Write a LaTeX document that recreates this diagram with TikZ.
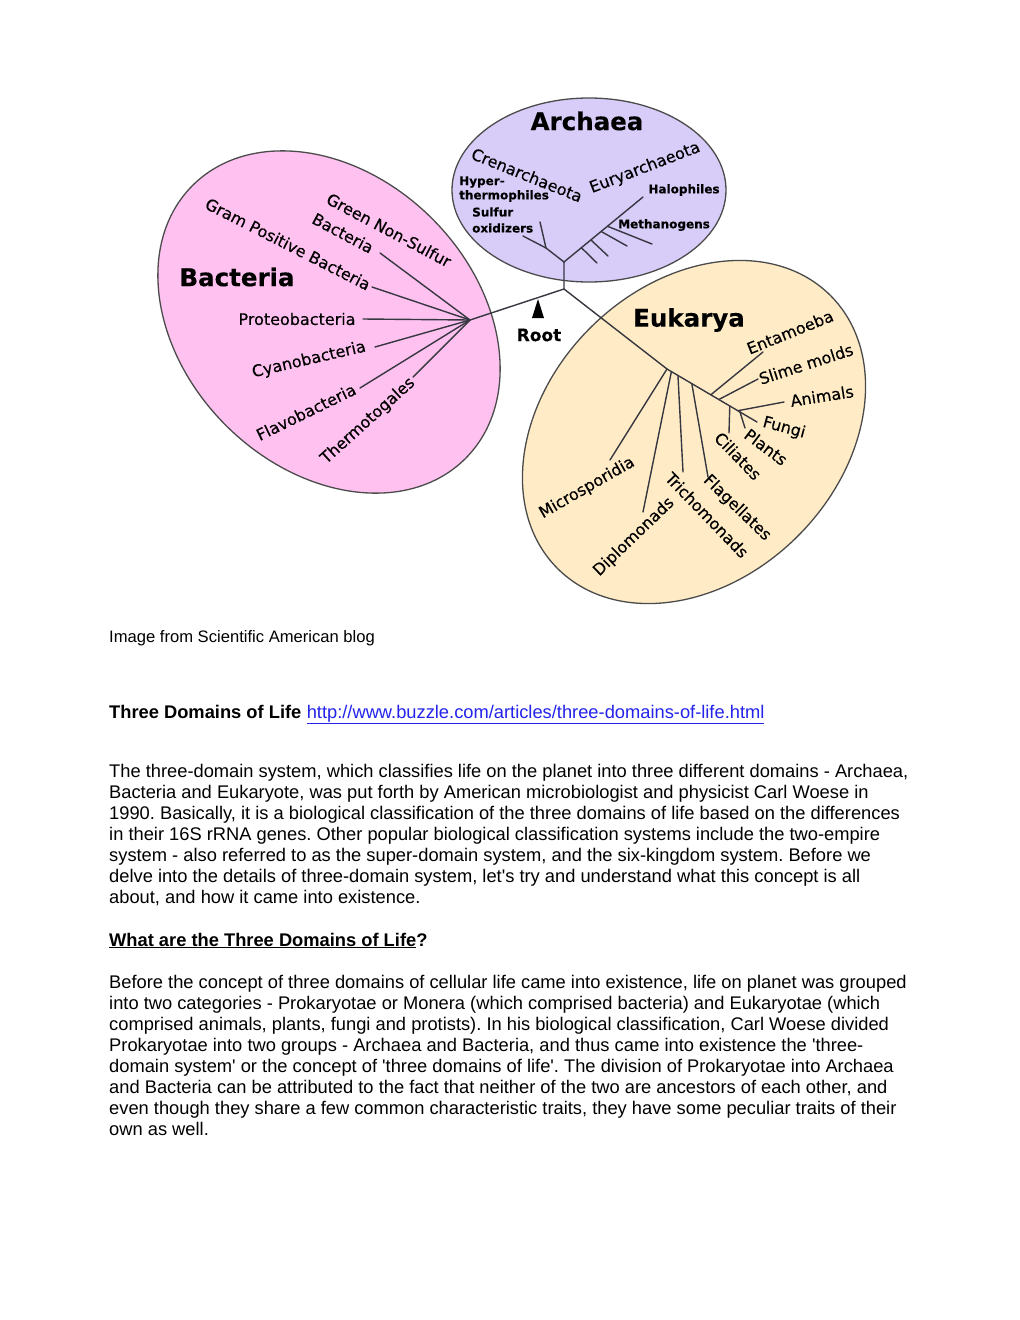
\documentclass[tikz,border=0pt]{standalone}
\usepackage{fontspec}
\setmainfont{Liberation Sans}
\newfontfamily\treefont{DejaVu Sans}[FakeBold=0.3]
\usetikzlibrary{positioning}
\definecolor{archfill}{RGB}{216,204,248}
\definecolor{bactfill}{RGB}{255,194,240}
\definecolor{eukfill}{RGB}{255,236,198}
\definecolor{rim}{RGB}{75,75,75}
\definecolor{branch}{RGB}{55,55,65}
\definecolor{linkblue}{RGB}{35,35,235}
\frenchspacing

\begin{document}
\begin{tikzpicture}[x=1pt, y=-1pt,
  cell/.style={draw=rim, line width=1.3pt},
  twig/.style={draw=branch, line width=1.4pt, line cap=round},
  lab/.style={font=\treefont\fontsize{16}{17}\selectfont, inner sep=0pt},
  small/.style={font=\treefont\bfseries\fontsize{12}{13}\selectfont, inner sep=0pt, anchor=west},
  title/.style={font=\treefont\bfseries\fontsize{24.5}{26}\selectfont, inner sep=0pt},
  body/.style={font=\fontsize{18.3}{21}\selectfont, inner sep=0pt, anchor=base west}]

  \fill[white] (0,0) rectangle (1020,1320);
  \useasboundingbox (0,0) rectangle (1020,1320);

  % the three domains
  \draw[cell, fill=bactfill] (329,322) ellipse [x radius=193pt, y radius=146pt, rotate=-45];
  \draw[cell, fill=archfill] (589,190) ellipse [x radius=137pt, y radius=92pt];
  \draw[cell, fill=eukfill] (694,432) ellipse [x radius=193pt, y radius=147pt, rotate=45];

  \node[title] (bacteria) at (237,277) {Bacteria};
  \node[title] (archaea) at (587,121) {Archaea};
  \node[title] (eukarya) at (689,320) {Eukarya};

  % trunk
  \coordinate (root) at (564,289);
  \coordinate (arcj) at (564,262);
  \coordinate (bacj) at (470,320);
  \coordinate (eukj) at (667,369);
  \coordinate (eukend) at (740,412);

  \draw[twig] (arcj) -- (root) -- (bacj);
  \draw[twig] (root) -- (eukj) -- (eukend);

  \coordinate (tip) at (538,299);
  \fill[black] (tip) -- ++(6,19) -- ++(-12,0) -- cycle;
  \node[font=\treefont\bfseries\fontsize{17}{18}\selectfont, inner sep=0pt] (rootlab) at (539,335) {Root};

  % Archaea
  \coordinate (cren) at (546,248);
  \coordinate (sulf) at (540,222);
  \coordinate (hyp) at (523,236);
  \coordinate (halo) at (643,197);
  \draw[twig] (arcj) -- (cren) -- (sulf);
  \draw[twig] (cren) -- (hyp);
  \draw[twig] (arcj) -- (halo);
  \path (arcj) -- (halo) coordinate[pos=0.22] (m1) coordinate[pos=0.34] (m2)
    coordinate[pos=0.47] (m3) coordinate[pos=0.55] (m4);
  \coordinate (m1e) at (597,263);
  \coordinate (m2e) at (608,256);
  \coordinate (m3e) at (627,246);
  \coordinate (m4e) at (652,244);
  \draw[twig] (m1) -- (m1e);
  \draw[twig] (m2) -- (m2e);
  \draw[twig] (m3) -- (m3e);
  \draw[twig] (m4) -- (m4e);

  \node[lab, rotate=-22] (crenlab) at (527,175) {Crenarchaeota};
  \node[lab, rotate=21] (eurylab) at (645,168) {Euryarchaeota};
  \node[small] (hyper) at (459,182) {Hyper-};
  \node[small] (thermo) at (459,196) {thermophiles};
  \node[small] (sulfur) at (472,212) {Sulfur};
  \node[small] (oxid) at (472,228) {oxidizers};
  \node[small, anchor=center] (halolab) at (684,190) {Halophiles};
  \node[small, anchor=center] (methlab) at (664,225) {Methanogens};

  % Bacteria
  \coordinate (gns) at (380,253);
  \coordinate (gpb) at (372,287);
  \coordinate (prot) at (363,319);
  \coordinate (cyan) at (375,347);
  \coordinate (flav) at (360,388);
  \coordinate (ther) at (413,377);
  \draw[twig] (bacj) -- (gns);
  \draw[twig] (bacj) -- (gpb);
  \draw[twig] (bacj) -- (prot);
  \draw[twig] (bacj) -- (cyan);
  \draw[twig] (bacj) -- (flav);
  \draw[twig] (bacj) -- (ther);

  \node[lab, rotate=-28] (gnslab) at (389,230) {Green Non-Sulfur};
  \node[lab, rotate=-28] (gnslab2) at (343,233) {Bacteria};
  \node[lab, rotate=-27] (gpblab) at (288,244) {Gram Positive Bacteria};
  \node[lab] (protlab) at (297,319) {Proteobacteria};
  \node[lab, rotate=13] (cyanlab) at (309,360) {Cyanobacteria};
  \node[lab, rotate=26] (flavlab) at (306,412) {Flavobacteria};
  \node[lab, rotate=42] (therlab) at (368,421) {Thermotogales};

  % Eukarya
  \path (eukj) -- (eukend) coordinate[pos=0.06] (e-dip) coordinate[pos=0.15] (e-tri)
    coordinate[pos=0.34] (e-fla) coordinate[pos=0.6] (e-ent) coordinate[pos=0.71] (e-sli)
    coordinate[pos=0.86] (e-cil) coordinate[pos=0.97] (e-ani);
  \coordinate (micro) at (610,460);
  \coordinate (diplo) at (643,512);
  \coordinate (tricho) at (683,472);
  \coordinate (flag) at (708,477);
  \coordinate (ent) at (763,352);
  \coordinate (slime) at (758,379);
  \coordinate (anim) at (784,402);
  \coordinate (cil) at (729,433);
  \coordinate (plant) at (745,428);
  \coordinate (fungi) at (757,422);
  \draw[twig] (eukj) -- (micro);
  \draw[twig] (e-dip) -- (diplo);
  \draw[twig] (e-tri) -- (tricho);
  \draw[twig] (e-fla) -- (flag);
  \draw[twig] (e-ent) -- (ent);
  \draw[twig] (e-sli) -- (slime);
  \draw[twig] (e-ani) -- (anim);
  \draw[twig] (e-cil) -- (cil);
  \draw[twig] (eukend) -- (plant);
  \draw[twig] (eukend) -- (fungi);

  \node[lab, rotate=22] (entlab) at (790,332) {Entamoeba};
  \node[lab, rotate=18] (slimelab) at (806,364) {Slime molds};
  \node[lab, rotate=9] (animlab) at (822,396) {Animals};
  \node[lab, rotate=-15] (fungilab) at (784,428) {Fungi};
  \node[lab, rotate=-37] (plantlab) at (766,447) {Plants};
  \node[lab, rotate=-46] (cillab) at (738,456) {Ciliates};
  \node[lab, rotate=-44] (flaglab) at (737,508) {Flagellates};
  \node[lab, rotate=-46] (trichlab) at (707,515) {Trichomonads};
  \node[lab, rotate=44] (diplolab) at (634,537) {Diplomonads};
  \node[lab, rotate=30] (microlab) at (587,488) {Microsporidia};

  % text under the picture
  \node[body, font=\fontsize{16.6}{19}\selectfont] (credit) at (109,642) {Image from Scientific American blog};
  \node[body] (source) at (109,718) {\bfseries Three Domains of Life}
    node[body, right=5pt of source.base east, anchor=base west] (link)
    {\color{linkblue}\underline{http://www.buzzle.com/articles/three-domains-of-life.html}};

  \foreach \ln [count=\i from 0] in {
    {The three-domain system, which classifies life on the planet into three different domains - Archaea,},
    {Bacteria and Eukaryote, was put forth by American microbiologist and physicist Carl Woese in},
    {1990. Basically, it is a biological classification of the three domains of life based on the differences},
    {in their 16S rRNA genes. Other popular biological classification systems include the two-empire},
    {system - also referred to as the super-domain system, and the six-kingdom system. Before we},
    {delve into the details of three-domain system, let\textquotesingle s try and understand what this concept is all},
    {about, and how it came into existence.}}
    \node[body] (intro-\i) at (109,{777+21*\i}) {\ln};

  \node[body] (question) at (109,946) {\bfseries\underline{What are the Three Domains of Life}?};

  \foreach \ln [count=\i from 0] in {
    {Before the concept of three domains of cellular life came into existence, life on planet was grouped},
    {into two categories - Prokaryotae or Monera (which comprised bacteria) and Eukaryotae (which},
    {comprised animals, plants, fungi and protists). In his biological classification, Carl Woese divided},
    {Prokaryotae into two groups - Archaea and Bacteria, and thus came into existence the \textquotesingle three-},
    {domain system\textquotesingle{} or the concept of \textquotesingle three domains of life\textquotesingle. The division of Prokaryotae into Archaea},
    {and Bacteria can be attributed to the fact that neither of the two are ancestors of each other, and},
    {even though they share a few common characteristic traits, they have some peculiar traits of their},
    {own as well.}}
    \node[body] (answer-\i) at (109,{988+21*\i}) {\ln};

\end{tikzpicture}
\end{document}
